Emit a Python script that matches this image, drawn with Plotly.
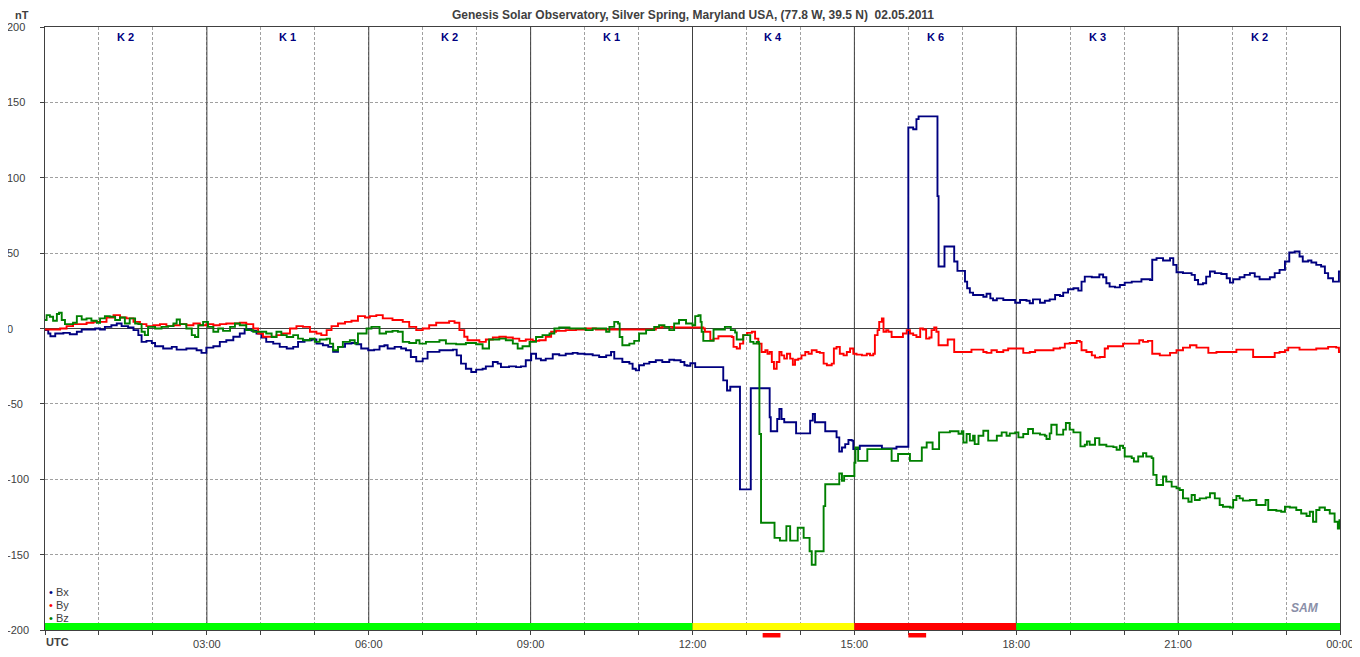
import plotly.graph_objects as go

# ---------------- data (hours UTC, nT) ----------------
bx_time = [0.00,0.06,0.10,0.19,0.34,0.46,0.59,0.68,0.80,0.93,1.02,1.11,1.23,1.33,1.42,1.54,1.64,1.73,1.79,1.88,1.98,2.04,2.19,2.35,2.44,2.62,2.81,2.90,2.99,3.12,3.24,3.36,3.49,3.61,3.70,3.83,3.92,4.01,4.10,4.23,4.35,4.48,4.60,4.69,4.81,4.94,5.03,5.15,5.25,5.34,5.43,5.56,5.68,5.77,5.86,5.99,
           6.10,6.20,6.29,6.35,6.48,6.60,6.69,6.78,6.88,7.00,7.09,7.22,7.31,7.43,7.56,7.63,7.71,7.80,7.90,7.99,8.11,8.17,8.30,8.39,8.45,8.60,8.73,8.82,8.91,9.01,9.10,9.19,9.28,9.41,9.53,9.65,9.78,9.87,10.00,10.15,10.27,10.40,10.49,10.55,10.70,10.83,10.89,10.95,11.01,11.10,11.20,11.32,11.44,11.57,11.66,11.78,11.85,11.90,11.96,
           12.05,12.56,12.57,12.64,12.70,12.88,13.08,13.43,13.45,13.57,13.61,13.65,13.70,13.92,14.18,14.23,14.27,14.46,14.67,14.72,14.77,14.83,14.89,14.95,14.98,15.10,15.51,15.78,
           16.00,16.09,16.15,16.19,16.54,16.56,16.67,16.85,16.91,17.05,17.09,17.14,17.20,17.39,17.45,17.52,17.57,17.64,17.76,17.98,18.07,18.19,18.25,18.31,18.44,18.53,18.62,18.72,18.81,18.87,18.96,19.06,19.15,19.21,19.27,19.40,19.54,19.61,19.67,19.73,19.83,19.92,20.01,20.14,20.32,20.48,20.52,20.60,20.72,20.85,20.91,20.97,21.09,21.25,21.31,21.37,21.46,21.52,21.59,21.68,21.80,21.90,21.96,22.02,22.14,22.23,22.33,22.42,22.51,22.64,22.70,22.79,22.88,22.98,23.06,23.16,23.25,23.31,23.41,23.47,23.56,23.65,23.72,23.78,23.87,23.94,23.98,24.00]
bx_values = [-1.1,-3.3,-5.1,-3.3,-2.9,-3.8,-2.2,-0.7,-0.7,0.0,-0.7,1.1,2.2,3.3,1.6,0.7,-1.1,-4.4,-8.9,-8.2,-9.6,-11.8,-13.3,-12.2,-14.0,-13.3,-14.4,-16.2,-12.7,-11.8,-8.9,-7.8,-5.5,-3.3,-0.7,-1.6,-3.3,-6.0,-8.9,-10.0,-12.2,-13.3,-12.2,-8.9,-7.8,-7.3,-10.0,-11.1,-12.2,-15.5,-12.2,-10.0,-9.6,-10.4,-13.3,-14.4,
             -14.0,-11.8,-11.1,-13.3,-12.2,-13.3,-14.4,-18.9,-21.8,-20.0,-15.5,-15.5,-14.4,-14.4,-14.0,-17.8,-23.3,-26.7,-28.9,-27.3,-26.7,-25.1,-22.2,-23.3,-25.6,-25.1,-25.6,-25.1,-21.1,-16.7,-20.0,-21.1,-20.0,-17.1,-17.8,-16.7,-16.2,-16.7,-17.1,-17.8,-18.9,-17.8,-15.5,-20.0,-22.2,-23.3,-26.7,-27.8,-24.4,-23.3,-22.2,-21.1,-22.2,-20.7,-21.1,-22.2,-24.4,-24.7,-23.1,
             -25.6,-25.6,-34.4,-41.1,-38.6,-106.7,-39.6,-58.9,-68.2,-60.0,-53.3,-60.0,-62.2,-69.6,-61.1,-56.7,-62.2,-68.2,-72.2,-81.6,-78.9,-76.7,-74.0,-74.4,-80.0,-77.8,-79.6,-78.4,
             133.3,132.2,138.9,140.7,87.8,41.1,54.4,44.4,38.2,31.1,26.7,23.8,22.2,21.1,23.1,20.0,18.7,20.0,18.9,17.1,18.9,18.4,16.7,19.3,17.1,18.4,19.3,22.2,21.6,23.8,26.0,26.7,25.1,31.1,34.4,34.0,35.8,34.0,30.0,27.8,27.3,28.9,30.4,31.1,32.7,32.2,45.6,46.7,45.1,46.7,42.2,37.3,36.7,35.6,32.2,29.3,30.0,34.4,37.8,36.7,36.2,33.3,30.4,32.7,34.0,35.6,36.7,34.4,32.7,32.7,34.0,36.7,38.9,44.4,50.4,51.1,47.8,44.4,45.1,43.8,42.2,41.1,36.7,33.3,31.1,31.1,37.8,37.8]

by_time = [0.00,0.15,0.28,0.40,0.52,0.65,0.77,0.90,1.02,1.14,1.27,1.39,1.51,1.64,1.76,1.88,2.01,2.13,2.25,2.38,2.50,2.62,2.75,2.87,2.99,3.12,3.24,3.36,3.49,3.61,3.73,3.86,3.95,4.04,4.17,4.29,4.41,4.54,4.66,4.78,4.91,5.03,5.12,5.22,5.31,5.43,5.56,5.68,5.80,5.93,6.02,
           6.14,6.26,6.44,6.63,6.75,6.88,7.00,7.12,7.25,7.37,7.49,7.59,7.68,7.77,7.83,7.93,8.05,8.17,8.30,8.42,8.54,8.67,8.79,8.91,9.04,9.16,9.28,9.38,9.47,9.65,9.84,10.02,10.21,10.40,10.83,11.14,11.32,11.44,11.63,11.88,
           12.14,12.20,12.23,12.33,12.39,12.48,12.73,12.76,12.82,12.88,12.94,13.01,13.10,13.16,13.22,13.28,13.35,13.39,13.43,13.47,13.51,13.56,13.61,13.65,13.70,13.75,13.81,13.86,13.90,13.96,14.02,14.09,14.15,14.21,14.30,14.36,14.43,14.49,14.58,14.62,14.67,14.73,14.80,14.86,14.92,14.98,15.04,15.14,15.23,15.29,15.35,
           15.38,15.43,15.46,15.51,15.54,15.59,15.63,15.69,15.81,15.90,15.97,16.03,16.09,16.15,16.22,16.27,16.33,16.39,16.43,16.48,16.52,16.56,16.73,16.85,17.17,17.39,17.45,17.54,17.64,17.76,17.85,18.04,18.13,18.25,18.35,
           18.69,18.81,18.90,18.99,19.12,19.18,19.21,19.30,19.40,19.46,19.55,19.64,19.70,19.98,20.17,20.28,20.35,20.44,20.52,20.66,20.85,20.97,21.09,21.22,21.34,21.56,21.71,21.96,22.08,22.30,22.39,22.70,22.79,22.88,22.98,23.04,23.25,23.44,23.56,23.78,23.93,23.98,24.00]
by_values = [-0.7,-0.7,0.0,1.6,2.9,2.9,3.8,4.4,4.4,7.3,8.9,7.3,6.7,4.4,2.9,1.6,2.2,2.9,1.6,2.2,2.9,2.2,3.3,2.2,2.9,2.2,2.9,3.3,3.3,3.8,2.9,0.0,-3.3,-5.5,-5.5,-4.4,-3.3,0.0,1.6,1.1,-2.2,-3.3,-4.4,-1.1,1.6,3.3,4.4,5.1,8.2,7.3,8.2,
             8.9,6.7,5.6,4.4,1.1,-1.1,0.0,2.2,3.8,3.8,4.9,3.8,-1.1,-5.5,-7.8,-7.8,-8.9,-7.3,-6.0,-5.5,-6.0,-6.7,-8.2,-7.3,-8.2,-7.8,-5.5,-2.2,-1.6,-1.1,-0.7,0.0,-0.7,-0.7,-0.7,-0.7,0.7,1.1,0.7,0.7,
             0.7,0.0,-2.2,-7.8,-6.7,-5.1,-5.6,-12.2,-13.3,-10.0,-4.4,-2.9,-2.2,-6.7,-10.0,-15.6,-14.4,-16.7,-15.6,-22.2,-26.7,-22.2,-15.6,-17.8,-20.0,-16.7,-20.0,-24.0,-20.7,-20.0,-17.8,-15.6,-16.7,-14.4,-15.6,-16.2,-23.3,-24.4,-23.3,-13.3,-12.2,-16.7,-17.8,-15.6,-13.3,-16.7,-17.3,-17.8,-16.7,-17.8,-16.7,
             -4.4,-1.1,4.4,6.7,-2.2,-1.1,-2.2,-5.6,-5.6,-3.3,-1.1,-3.3,-4.4,-5.6,0.0,-0.7,-6.7,-6.0,-1.1,0.7,-2.2,-11.1,-7.3,-15.6,-14.0,-15.6,-16.2,-14.4,-15.6,-14.4,-13.3,-13.3,-16.2,-15.6,-14.4,
             -13.3,-12.7,-10.0,-9.6,-8.2,-8.9,-14.4,-15.6,-17.8,-19.3,-18.9,-13.3,-11.8,-10.0,-10.0,-7.8,-8.9,-8.2,-16.7,-17.8,-16.2,-14.4,-12.7,-11.1,-12.7,-16.2,-15.6,-15.6,-14.0,-14.0,-18.9,-18.9,-16.2,-15.6,-14.4,-12.7,-14.0,-14.0,-13.3,-12.2,-12.7,-15.6,-14.4]

bz_time = [0.00,0.03,0.09,0.15,0.22,0.26,0.31,0.37,0.46,0.52,0.59,0.68,0.77,0.86,0.96,1.02,1.11,1.20,1.30,1.39,1.48,1.57,1.67,1.73,1.79,1.85,1.91,2.04,2.16,2.28,2.38,2.44,2.50,2.62,2.72,2.78,2.84,2.93,3.02,3.12,3.21,3.30,3.43,3.52,3.61,3.73,3.86,3.98,4.10,4.20,4.29,4.38,4.48,4.60,4.69,4.78,4.91,5.00,5.09,5.22,5.28,5.34,5.43,5.52,5.65,5.74,5.80,5.90,5.96,6.05,
           6.20,6.32,6.44,6.54,6.63,6.75,6.88,6.94,7.06,7.19,7.31,7.43,7.62,7.80,7.99,8.11,8.23,8.42,8.54,8.67,8.76,8.85,8.98,9.10,9.22,9.35,9.44,9.53,9.72,9.84,10.02,10.15,10.27,10.40,10.46,10.55,10.62,10.65,10.70,10.83,10.92,11.01,11.14,11.29,11.38,11.48,11.57,11.66,11.75,11.88,12.00,
           12.05,12.11,12.15,12.17,12.20,12.39,12.60,12.71,12.79,12.82,12.94,13.07,13.13,13.19,13.23,13.24,13.27,13.52,13.62,13.74,13.81,13.95,14.06,14.17,14.21,14.28,14.43,14.46,14.72,14.77,14.81,15.00,15.02,15.07,
           15.24,15.69,15.81,16.03,16.25,16.34,16.45,16.57,16.77,16.93,16.99,17.02,17.08,17.14,17.20,17.23,17.30,17.39,17.48,17.64,17.73,17.82,17.88,17.98,18.04,18.13,18.22,18.31,18.44,
           18.53,18.56,18.62,18.65,18.75,18.87,18.92,18.99,19.06,19.19,19.27,19.31,19.36,19.46,19.54,19.67,19.80,19.86,19.92,19.98,20.01,20.14,20.18,20.26,20.35,20.41,20.51,20.54,20.60,20.72,20.78,20.88,20.97,21.03,21.09,21.19,21.25,21.31,21.40,21.52,21.59,21.68,21.77,21.83,21.96,22.02,22.08,22.14,22.20,22.33,22.45,22.62,22.67,22.82,22.91,22.98,23.07,23.19,23.28,23.38,23.44,23.50,23.56,23.62,23.72,23.81,23.90,23.96,23.99,24.00]
bz_values = [5.6,8.9,7.8,5.1,9.6,10.4,5.6,2.9,2.9,3.8,8.2,6.0,6.7,5.1,3.8,6.7,8.2,7.8,5.6,7.3,3.3,6.7,3.3,2.9,-2.2,-4.4,1.1,0.0,1.1,1.6,3.3,6.0,2.9,0.0,-4.4,-5.6,2.2,4.4,1.1,-2.2,0.0,-1.6,1.1,3.3,2.2,-1.1,-2.2,-2.2,-3.3,-5.6,-2.2,-4.4,-5.6,-4.4,-6.7,-7.8,-6.7,-8.9,-7.3,-6.7,-10.0,-14.4,-12.2,-8.9,-7.8,-10.0,-3.3,-3.3,0.0,1.1,
             -3.3,-2.2,-1.6,-2.2,-8.9,-9.6,-7.8,-10.0,-8.9,-8.9,-7.8,-10.0,-10.4,-9.6,-10.4,-13.3,-7.3,-6.7,-7.8,-10.0,-13.3,-11.8,-8.9,-5.6,-4.4,-3.3,0.0,0.7,0.0,0.0,-1.1,0.0,0.0,-2.2,1.1,4.4,3.3,-5.6,-11.1,-10.0,-8.2,-3.3,-1.1,1.1,2.2,1.1,-1.1,3.3,5.6,3.3,2.2,
             8.2,8.9,4.4,-2.2,-8.2,-0.7,1.1,-1.1,-2.7,-7.3,-4.4,-8.9,-10.0,-8.9,-10.0,-70.0,-128.9,-138.9,-140.7,-131.1,-140.7,-132.2,-138.9,-147.8,-156.7,-147.8,-117.8,-103.3,-96.2,-101.1,-97.8,-89.1,-78.9,-87.8,
             -80.0,-87.8,-83.3,-87.8,-78.9,-75.6,-80.0,-68.9,-68.2,-69.8,-68.2,-75.6,-70.0,-74.4,-71.1,-76.7,-71.1,-67.8,-74.4,-71.1,-68.9,-71.1,-69.6,-68.9,-72.2,-70.0,-66.7,-69.6,-70.4,
             -71.1,-73.3,-69.6,-63.8,-70.4,-67.1,-62.7,-67.1,-68.9,-78.2,-77.1,-74.9,-77.1,-72.7,-77.1,-78.2,-78.7,-80.4,-77.8,-79.3,-84.9,-86.0,-88.2,-84.9,-82.7,-84.9,-86.0,-97.1,-103.8,-98.2,-101.6,-104.9,-106.0,-107.1,-112.7,-114.9,-110.4,-113.8,-112.7,-112.0,-109.3,-112.7,-117.1,-118.2,-118.7,-113.8,-111.1,-112.7,-114.2,-113.8,-117.1,-113.8,-120.4,-120.9,-121.6,-118.2,-118.7,-120.4,-122.7,-124.4,-121.6,-128.2,-120.4,-118.7,-120.4,-122.7,-128.2,-132.7,-127.1,-128.0]

k_labels = ["K 2", "K 1", "K 2", "K 1", "K 4", "K 6", "K 3", "K 2"]
k_centers = [1.5, 4.5, 7.5, 10.5, 13.5, 16.5, 19.5, 22.5]

status_start = [0, 12, 15, 18]
status_end = [12, 15, 18, 24]
status_color = ["#00ff00", "#ffff00", "#ff0000", "#00ff00"]
alert_start = [13.30, 16.00]
alert_end = [13.63, 16.33]

x_tickvals = list(range(0, 25))
x_ticktext = ["" if h % 3 else ("" if h == 0 else "%02d:00" % (h % 24)) for h in x_tickvals]
y_tickvals = [200, 150, 100, 50, 0, -50, -100, -150, -200]

title_text = "Genesis Solar Observatory, Silver Spring, Maryland USA, (77.8 W, 39.5 N)  02.05.2011"

# ---------------- figure ----------------
# The page body has an 8px default margin; layout numbers below are page pixels.
OFF = 8
PAGE_W, PAGE_H = 1360, 657
PLOT_L, PLOT_R, PLOT_T, PLOT_B = 45, 1340, 27, 630
W, H = PAGE_W - OFF, PAGE_H - OFF
ML, MT = PLOT_L - OFF, PLOT_T - OFF
MR, MB = W - (PLOT_R - OFF), H - (PLOT_B - OFF)
PW, PH = PLOT_R - PLOT_L, PLOT_B - PLOT_T


def px2paper_x(px):
    return (px - PLOT_L) / PW


def px2paper_y(py):
    return (PLOT_B - py) / PH


FONT = "Liberation Sans, Arial, sans-serif"
TXT = "#404040"
fig = go.Figure()

series = [("Bx", bx_time, bx_values, "#000080"),
          ("By", by_time, by_values, "#ff0000"),
          ("Bz", bz_time, bz_values, "#008000")]
for name, t, v, c in series:
    fig.add_trace(go.Scatter(x=t, y=v, mode="lines", name=name,
                             line=dict(color=c, width=1.9, shape="hv"),
                             showlegend=False, hoverinfo="skip"))

shapes = []
for h in range(3, 24, 3):
    shapes.append(dict(type="line", xref="x", yref="y", x0=h, x1=h, y0=-200, y1=200,
                       line=dict(color=TXT, width=1), layer="between"))
for s, e, c in zip(status_start, status_end, status_color):
    shapes.append(dict(type="rect", xref="x", yref="y", x0=s, x1=e, y0=-200, y1=-195.4,
                       fillcolor=c, line=dict(width=0), layer="between"))
for s, e in zip(alert_start, alert_end):
    shapes.append(dict(type="rect", xref="x", yref="paper", x0=s, x1=e,
                       y0=px2paper_y(637.5), y1=px2paper_y(633),
                       fillcolor="#ff0000", line=dict(width=0), layer="above"))

annotations = []
annotations.append(dict(text="<b>" + title_text + "</b>", xref="paper", yref="paper",
                        x=0.5, y=px2paper_y(15), xanchor="center", yanchor="middle",
                        showarrow=False, font=dict(family=FONT, size=12, color=TXT)))
annotations.append(dict(text="<b>nT</b>", xref="paper", yref="paper",
                        x=px2paper_x(21.5), y=px2paper_y(15), xanchor="center", yanchor="middle",
                        showarrow=False, font=dict(family=FONT, size=11, color=TXT)))
annotations.append(dict(text="<b>UTC</b>", xref="paper", yref="paper",
                        x=px2paper_x(44), y=px2paper_y(642), xanchor="left", yanchor="middle",
                        showarrow=False, font=dict(family=FONT, size=11, color=TXT)))
for v in y_tickvals:
    annotations.append(dict(text=str(v), xref="paper", yref="y",
                            x=px2paper_x(5), y=v, xanchor="left", yanchor="middle",
                            showarrow=False, font=dict(family=FONT, size=11, color=TXT)))
for lab, xc in zip(k_labels, k_centers):
    annotations.append(dict(text="<b>" + lab + "</b>", xref="x", yref="paper",
                            x=xc, y=px2paper_y(37), xanchor="center", yanchor="middle",
                            showarrow=False, font=dict(family=FONT, size=11, color="#000080")))
for i, (name, _, _, c) in enumerate(series):
    annotations.append(dict(text="<span style='color:%s'>\u2022</span> %s" % (c, name),
                            xref="paper", yref="paper",
                            x=px2paper_x(47), y=px2paper_y(591.5 + 13 * i),
                            xanchor="left", yanchor="middle", showarrow=False,
                            font=dict(family=FONT, size=11, color=TXT)))
annotations.append(dict(text="<i><b>SAM</b></i>", xref="paper", yref="paper",
                        x=px2paper_x(1305), y=px2paper_y(608), xanchor="center", yanchor="middle",
                        showarrow=False, font=dict(family=FONT, size=12, color="#8a8fa8")))

GRID_DASH = "3px,2px"
fig.update_layout(
    width=W, height=H,
    margin=dict(l=ML, r=MR, t=MT, b=MB, pad=0, autoexpand=False),
    paper_bgcolor="white", plot_bgcolor="white",
    font=dict(family=FONT, size=11, color=TXT),
    shapes=shapes, annotations=annotations,
    xaxis=dict(range=[0, 24], tickvals=x_tickvals, ticktext=x_ticktext,
               showgrid=True, gridcolor="#a0a0a0", griddash=GRID_DASH, gridwidth=1,
               showline=True, linecolor=TXT, linewidth=1, mirror=True,
               ticks="outside", ticklen=4, tickcolor=TXT, automargin=False,
               zeroline=False, fixedrange=True,
               tickfont=dict(family=FONT, size=11, color=TXT)),
    yaxis=dict(range=[-200, 200], tickvals=y_tickvals, showticklabels=False,
               showgrid=True, gridcolor="#a0a0a0", griddash=GRID_DASH, gridwidth=1,
               showline=True, linecolor=TXT, linewidth=1, mirror=True,
               ticks="outside", ticklen=4, tickcolor=TXT, automargin=False,
               zeroline=True, zerolinecolor=TXT, zerolinewidth=1, fixedrange=True),
)

fig.write_html("out.html", config={"displayModeBar": False})
